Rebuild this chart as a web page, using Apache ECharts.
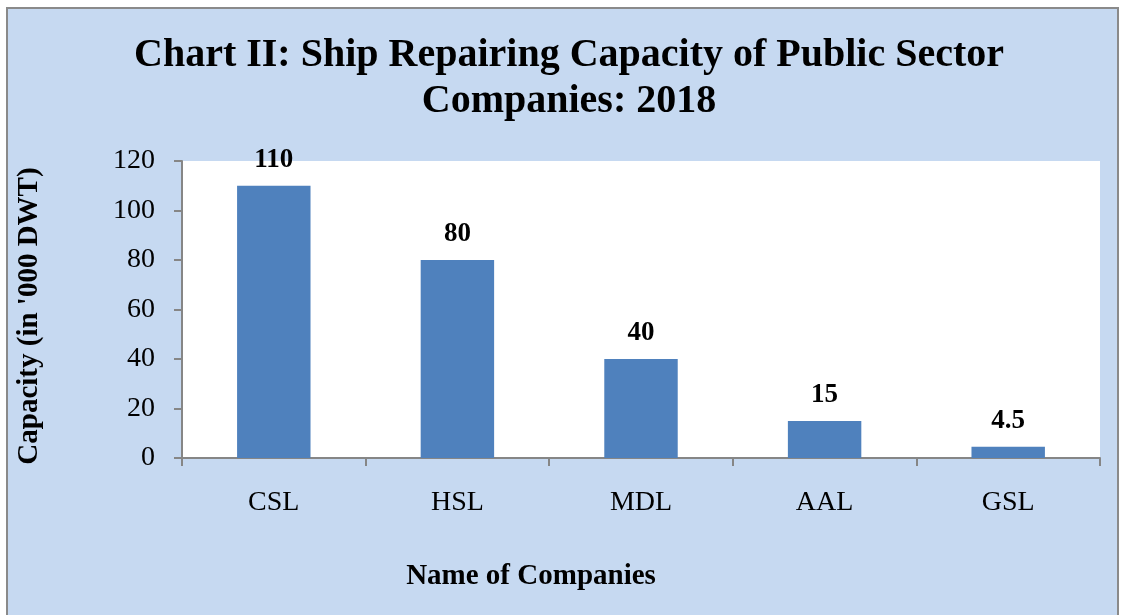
<!DOCTYPE html>
<html>
<head>
<meta charset="utf-8">
<script src="https://cdn.jsdelivr.net/npm/echarts@6/dist/echarts.min.js"></script>
<style>
  html, body { margin: 0; padding: 0; background: #ffffff; }
  #frame {
    position: absolute; left: 6px; top: 7px; width: 1113px; height: 620px;
    background: #c6d9f1; border: 2px solid #8a8a8a; box-sizing: border-box;
  }
  #chart { position: absolute; left: 0; top: 0; width: 1121px; height: 615px; }
</style>
</head>
<body>
<div id="frame"></div>
<div id="chart"></div>
<script>
const companies = ["CSL", "HSL", "MDL", "AAL", "GSL"];
const capacity = [110, 80, 40, 15, 4.5];
const yTicks = [0, 20, 40, 60, 80, 100, 120];

const serif = "'Liberation Serif', 'Times New Roman', serif";
const chartDom = document.getElementById("chart");
const myChart = echarts.init(chartDom);

const options = {
  backgroundColor: "transparent",
  animation: false,
  title: {
    text: "Chart II: Ship Repairing Capacity of Public Sector\nCompanies: 2018",
    left: 564,
    top: 28,
    textAlign: "center",
    textStyle: {
      fontFamily: serif,
      fontWeight: "bold",
      fontSize: 40,
      lineHeight: 46,
      color: "#000",
    },
  },
  graphic: [
    {
      // x axis title, sits left of the plot centre like the original
      type: "text",
      x: 531,
      y: 577,
      style: {
        text: "Name of Companies",
        fontFamily: serif,
        fontWeight: "bold",
        fontSize: 29,
        fill: "#000",
        align: "center",
        verticalAlign: "middle",
      },
    },
    {
      type: "text",
      x: 30,
      y: 316,
      rotation: Math.PI / 2,
      style: {
        text: "Capacity (in '000 DWT)",
        fontFamily: serif,
        fontWeight: "bold",
        fontSize: 29,
        fill: "#000",
        align: "center",
        verticalAlign: "middle",
      },
    },
  ],
  grid: {
    left: 182,
    right: 21,
    top: 161,
    bottom: 157,
    show: true,
    backgroundColor: "#ffffff",
    borderWidth: 0,
  },
  xAxis: {
    type: "category",
    data: companies,
    axisLine: { lineStyle: { color: "#868686", width: 2 } },
    axisTick: { show: true, length: 8, lineStyle: { color: "#868686", width: 2 } },
    axisLabel: {
      margin: 31,
      fontFamily: serif,
      fontSize: 28,
      color: "#000",
    },
  },
  yAxis: {
    type: "value",
    min: yTicks[0],
    max: yTicks[yTicks.length - 1],
    interval: 20,
    axisLine: { show: true, lineStyle: { color: "#868686", width: 2 } },
    axisTick: { show: true, length: 8, lineStyle: { color: "#868686", width: 2 } },
    splitLine: { show: false },
    axisLabel: {
      margin: 27,
      fontFamily: serif,
      fontSize: 28,
      color: "#000",
    },
  },
  series: [
    {
      type: "bar",
      data: capacity,
      barWidth: "40%",
      itemStyle: { color: "#4f81bd" },
      label: {
        show: true,
        position: "top",
        distance: 12,
        fontFamily: serif,
        fontWeight: "bold",
        fontSize: 27,
        color: "#000",
      },
    },
  ],
};

myChart.setOption(options);
</script>
</body>
</html>
